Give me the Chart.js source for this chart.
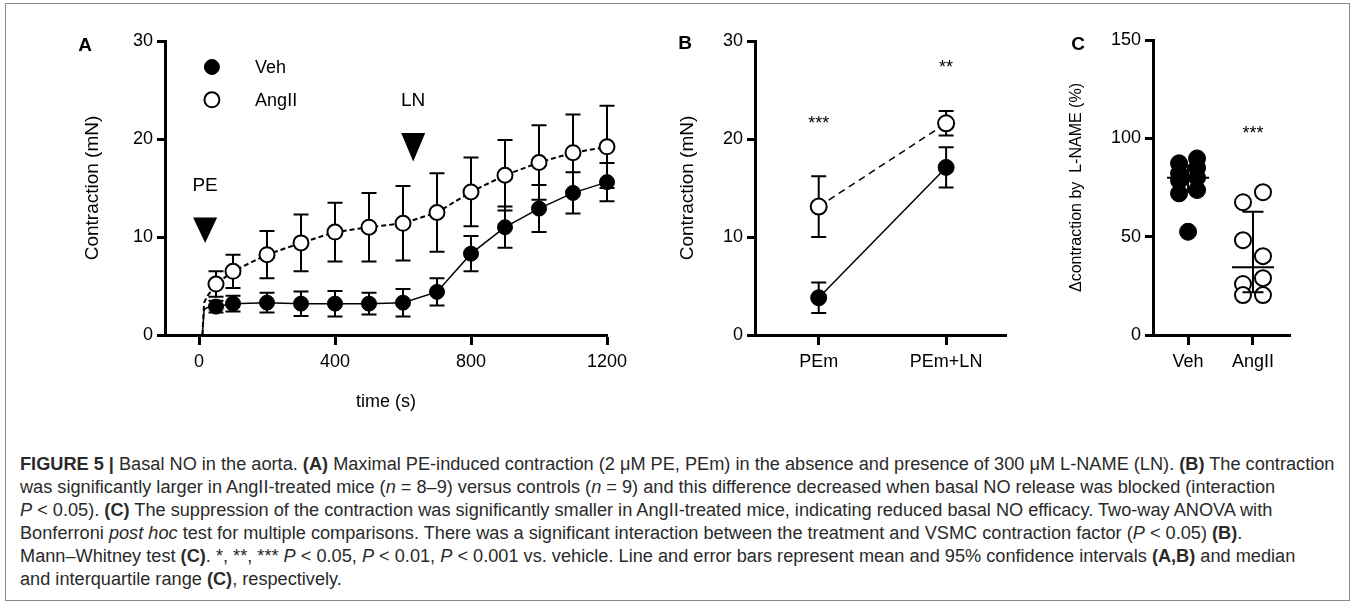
<!DOCTYPE html>
<html><head><meta charset="utf-8">
<script src="https://cdn.jsdelivr.net/npm/chart.js@4.4.1/dist/chart.umd.min.js"></script>
<style>
html,body{margin:0;padding:0;background:#fff;}
body{width:1355px;height:608px;position:relative;overflow:hidden;font-family:"Liberation Sans",Arial,Helvetica,sans-serif;}
.cv{position:absolute;top:0;}
.frame{position:absolute;left:5px;top:3px;width:1345px;height:598px;border:1px solid #8a8a8a;box-sizing:border-box;}
.letter{position:absolute;font-weight:bold;font-size:19px;color:#000;transform:translate(-50%,-50%);line-height:1;}
#caption{position:absolute;left:20px;top:453px;font-size:17px;line-height:23px;color:#2a2a2a;white-space:nowrap;}
#caption div{display:block;}
</style></head>
<body>
<div class="frame"></div>
<canvas id="cA" class="cv" style="left:0px" width="640" height="430"></canvas>
<canvas id="cB" class="cv" style="left:640px" width="400" height="430"></canvas>
<canvas id="cC" class="cv" style="left:1040px" width="315" height="430"></canvas>
<div class="letter" style="left:85px;top:44px">A</div>
<div class="letter" style="left:685px;top:42px">B</div>
<div class="letter" style="left:1078px;top:43px">C</div>
<div id="caption">
<div id="cap1"><b>FIGURE 5 |</b> Basal NO in the aorta. <b>(A)</b> Maximal PE-induced contraction (2 μM PE, PEm) in the absence and presence of 300 μM L-NAME (LN). <b>(B)</b> The contraction</div>
<div>was significantly larger in AngII-treated mice (<i>n</i> = 8–9) versus controls (<i>n</i> = 9) and this difference decreased when basal NO release was blocked (interaction</div>
<div><i>P</i> &lt; 0.05). <b>(C)</b> The suppression of the contraction was significantly smaller in AngII-treated mice, indicating reduced basal NO efficacy. Two-way ANOVA with</div>
<div>Bonferroni <i>post hoc</i> test for multiple comparisons. There was a significant interaction between the treatment and VSMC contraction factor (<i>P</i> &lt; 0.05) <b>(B)</b>.</div>
<div>Mann–Whitney test <b>(C)</b>. *, **, *** <i>P</i> &lt; 0.05, <i>P</i> &lt; 0.01, <i>P</i> &lt; 0.001 vs. vehicle. Line and error bars represent mean and 95% confidence intervals <b>(A,B)</b> and median</div>
<div>and interquartile range <b>(C)</b>, respectively.</div>
</div>
<script>
// ---------------- DATA ----------------
// Panel A: time course
const timesA   = [50, 100, 200, 300, 400, 500, 600, 700, 800, 900, 1000, 1100, 1200];
const vehA     = [2.9, 3.2, 3.3, 3.2, 3.2, 3.2, 3.3, 4.4, 8.3, 11.0, 12.9, 14.5, 15.6];
const vehErrA  = [0.6, 0.8, 1.0, 1.25, 1.3, 1.1, 1.4, 1.4, 1.8, 2.1, 2.4, 2.1, 1.95];
const angA     = [5.2, 6.5, 8.2, 9.4, 10.5, 11.0, 11.4, 12.5, 14.6, 16.3, 17.6, 18.6, 19.2];
const angErrA  = [1.3, 1.7, 2.4, 2.9, 3.0, 3.5, 3.8, 4.0, 3.5, 3.6, 3.8, 3.9, 4.2];
// recorded trace onset before the first averaged point
const onsetT   = [10, 15, 25, 38];
const vehOnset = [0, 2.6, 2.8, 2.9];
const angOnset = [0, 3.3, 4.0, 4.6];
const xTicksA  = [0, 400, 800, 1200];
const yTicksA  = [0, 10, 20, 30];
const drugT    = {PE: 18, LN: 630};
// Panel B
const catsB    = ['PEm', 'PEm+LN'];
const vehB     = [3.8, 17.1];
const vehErrB  = [1.55, 2.05];
const angB     = [13.1, 21.6];
const angErrB  = [3.1, 1.25];
const starsB   = ['***', '**'];
// Panel C
const catsC    = ['Veh', 'AngII'];
const vehC     = [89.8, 87.3, 85, 82.2, 80, 78.5, 73.7, 72, 52.5];
const angC     = [72.6, 67.5, 48.2, 40.1, 28.9, 25.9, 20.3, 20.3];
const starsC   = ['', '***'];
const yTicksC  = [0, 50, 100, 150];

// ---------------- SETUP ----------------
Chart.defaults.font.family = "'Liberation Sans', Arial, Helvetica, sans-serif";
Chart.defaults.font.size = 18;
Chart.defaults.color = '#000';
Chart.defaults.animation = false;

const BLACK = '#000';

function axisY(min, max, ticks, width, title, titleSize) {
  return {
    type: 'linear', min: min, max: max,
    afterBuildTicks: s => { s.ticks = ticks.map(v => ({value: v})); },
    afterFit: s => { s.width = width; },
    grid: {display: true, drawOnChartArea: false, drawTicks: true, tickLength: 8, tickWidth: 3, tickColor: BLACK},
    border: {display: true, width: 3, color: BLACK},
    ticks: {padding: 4, color: BLACK, font: {size: 18}},
    title: {display: true, text: title, color: BLACK, font: {size: titleSize}, padding: {top: 0, bottom: 0}}
  };
}
function axisX(min, max, ticks, labels, title) {
  return {
    type: 'linear', min: min, max: max,
    afterBuildTicks: s => { s.ticks = ticks.map(v => ({value: v})); },
    afterFit: s => { s.height = 78; },
    grid: {display: true, drawOnChartArea: false, drawTicks: true, tickLength: 10, tickWidth: 3, tickColor: BLACK},
    border: {display: true, width: 3, color: BLACK},
    ticks: {padding: 6, color: BLACK, font: {size: 18}, maxRotation: 0, autoSkip: false,
            callback: (v) => labels ? labels[v] : String(v)},
    title: {display: !!title, text: title || '', color: BLACK, font: {size: 18}, padding: {top: 0, bottom: 0}}
  };
}

const errorBars = {
  id: 'errorBars',
  beforeDatasetsDraw(chart) {
    const ctx = chart.ctx, xs = chart.scales.x, ys = chart.scales.y;
    chart.data.datasets.forEach(ds => {
      if (!ds.errors) return;
      ctx.save();
      ctx.strokeStyle = BLACK; ctx.lineWidth = 2; ctx.setLineDash([]);
      ds.data.forEach((p, i) => {
        const e = ds.errors[i];
        if (e == null) return;
        const x = xs.getPixelForValue(p.x);
        const y1 = ys.getPixelForValue(p.y + e), y2 = ys.getPixelForValue(p.y - e);
        ctx.beginPath();
        ctx.moveTo(x, y1); ctx.lineTo(x, y2);
        ctx.moveTo(x - 7.5, y1); ctx.lineTo(x + 7.5, y1);
        ctx.moveTo(x - 7.5, y2); ctx.lineTo(x + 7.5, y2);
        ctx.stroke();
      });
      ctx.restore();
    });
  }
};

function tri(ctx, x, yTop, yTip, hw) {
  ctx.beginPath(); ctx.moveTo(x - hw, yTop); ctx.lineTo(x + hw, yTop); ctx.lineTo(x, yTip); ctx.closePath(); ctx.fill();
}

const annotA = {
  id: 'annotA',
  afterDatasetsDraw(chart) {
    const ctx = chart.ctx, xs = chart.scales.x, ys = chart.scales.y;
    ctx.save();
    // legend
    const dsets = chart.data.datasets;
    const legY = [27.35, 24.0];
    [dsets[0], dsets[1]].forEach((ds, i) => {
      const cx = xs.getPixelForValue(38), cy = ys.getPixelForValue(legY[i]);
      ctx.beginPath(); ctx.arc(cx, cy, 7.5, 0, Math.PI * 2);
      ctx.fillStyle = ds.pointBackgroundColor; ctx.fill();
      ctx.lineWidth = ds.pointBorderWidth; ctx.strokeStyle = BLACK; ctx.stroke();
      ctx.fillStyle = BLACK; ctx.font = "18px 'Liberation Sans', Arial, sans-serif";
      ctx.textAlign = 'left'; ctx.textBaseline = 'middle';
      ctx.fillText(ds.label, xs.getPixelForValue(165), cy + 1);
    });
    // drug additions
    ctx.fillStyle = BLACK; ctx.textAlign = 'center'; ctx.textBaseline = 'middle';
    ctx.font = "19px 'Liberation Sans', Arial, sans-serif";
    const px = xs.getPixelForValue(drugT.PE);
    ctx.fillText('PE', px, ys.getPixelForValue(15.3) + 1);
    tri(ctx, px, ys.getPixelForValue(12.0), ys.getPixelForValue(9.4), 12);
    const lx = xs.getPixelForValue(drugT.LN);
    ctx.fillText('LN', lx, ys.getPixelForValue(24.0) + 1);
    tri(ctx, lx, ys.getPixelForValue(20.6), ys.getPixelForValue(17.7), 12);
    ctx.restore();
  }
};

// ---------------- PANEL A ----------------
const vehLineA = onsetT.map((t, i) => ({x: t, y: vehOnset[i]})).concat(timesA.map((t, i) => ({x: t, y: vehA[i]})));
const angLineA = onsetT.map((t, i) => ({x: t, y: angOnset[i]})).concat(timesA.map((t, i) => ({x: t, y: angA[i]})));
const radA = onsetT.map(() => 0).concat(timesA.map(() => 7.5));

new Chart(document.getElementById('cA'), {
  type: 'line',
  data: {datasets: [
    {label: 'Veh', data: vehLineA, errors: onsetT.map(() => null).concat(vehErrA), order: 1,
     borderColor: BLACK, borderWidth: 1.5, pointRadius: radA, pointBackgroundColor: BLACK,
     pointBorderColor: BLACK, pointBorderWidth: 1, tension: 0, clip: false},
    {label: 'AngII', data: angLineA, errors: onsetT.map(() => null).concat(angErrA), order: 2,
     borderColor: BLACK, borderWidth: 2, borderDash: [5, 3], pointRadius: radA, pointBackgroundColor: '#fff',
     pointBorderColor: BLACK, pointBorderWidth: 2, tension: 0, clip: false}
  ]},
  options: {
    responsive: false, animation: false,
    layout: {padding: {left: 81, top: 41, right: 33, bottom: 17}},
    plugins: {legend: {display: false}, tooltip: {enabled: false}},
    scales: {
      x: axisX(-100, 1200, xTicksA, null, 'time (s)'),
      y: axisY(0, 30, yTicksA, 84, 'Contraction (mN)', 19)
    }
  },
  plugins: [errorBars, annotA]
});

// ---------------- PANEL B ----------------
const annotB = {
  id: 'annotB',
  afterDatasetsDraw(chart) {
    const ctx = chart.ctx, xs = chart.scales.x, ys = chart.scales.y;
    ctx.save(); ctx.fillStyle = BLACK; ctx.textAlign = 'center'; ctx.textBaseline = 'alphabetic';
    ctx.font = "18px 'Liberation Sans', Arial, sans-serif";
    const starY = [22.0, 27.8];
    starsB.forEach((s, i) => ctx.fillText(s, xs.getPixelForValue(i), ys.getPixelForValue(starY[i]) + 10));
    ctx.restore();
  }
};
new Chart(document.getElementById('cB'), {
  type: 'line',
  data: {datasets: [
    {label: 'Veh', data: vehB.map((v, i) => ({x: i, y: v})), errors: vehErrB, order: 1,
     borderColor: BLACK, borderWidth: 1.5, pointRadius: 8, pointBackgroundColor: BLACK,
     pointBorderColor: BLACK, pointBorderWidth: 1, tension: 0, clip: false},
    {label: 'AngII', data: angB.map((v, i) => ({x: i, y: v})), errors: angErrB, order: 2,
     borderColor: BLACK, borderWidth: 1.5, borderDash: [7, 5], pointRadius: 8, pointBackgroundColor: '#fff',
     pointBorderColor: BLACK, pointBorderWidth: 2, tension: 0, clip: false}
  ]},
  options: {
    responsive: false, animation: false,
    layout: {padding: {left: 36, top: 41, right: 34, bottom: 17}},
    plugins: {legend: {display: false}, tooltip: {enabled: false}},
    scales: {
      x: axisX(-0.5, 1.47, [0, 1], catsB, null),
      y: axisY(0, 30, yTicksA, 79, 'Contraction (mN)', 19)
    }
  },
  plugins: [errorBars, annotB]
});

// ---------------- PANEL C ----------------
const areaC = {w: 137, h: 295, xmin: -0.54, xmax: 1.57, ymax: 150};
const pxX = areaC.w / (areaC.xmax - areaC.xmin), pxY = areaC.h / areaC.ymax;
// column-scatter layout: neighbouring points closer than one marker alternate left / right,
// successive groups start on alternate sides
function columnScatter(values, center, gapPx, offPx) {
  const order = values.map((v, i) => i).sort((a, b) => values[b] - values[a]);
  const out = new Array(values.length);
  const groups = [];
  order.forEach((i, k) => {
    if (k > 0 && (values[order[k - 1]] - values[i]) * pxY < gapPx) groups[groups.length - 1].push(i);
    else groups.push([i]);
  });
  let start = 1;
  groups.forEach(g => {
    if (g.length === 1) { out[g[0]] = center; return; }
    g.forEach((i, j) => { out[i] = center + (j % 2 === 0 ? start : -start) * offPx / pxX; });
    start = -start;
  });
  return out;
}
function quant(sorted, p) {
  const n = sorted.length, r = p * (n + 1), lo = Math.floor(r), f = r - lo;
  if (lo < 1) return sorted[0];
  if (lo >= n) return sorted[n - 1];
  return sorted[lo - 1] + f * (sorted[lo] - sorted[lo - 1]);
}
const summaryC = {
  id: 'summaryC',
  afterDatasetsDraw(chart) {
    const ctx = chart.ctx, xs = chart.scales.x, ys = chart.scales.y;
    ctx.save(); ctx.strokeStyle = BLACK; ctx.lineWidth = 2;
    chart.data.datasets.forEach((ds, ci) => {
      const s = ds.values.slice().sort((a, b) => a - b);
      const med = quant(s, 0.5), q1 = quant(s, 0.25), q3 = quant(s, 0.75);
      const x = xs.getPixelForValue(ci);
      const ym = ys.getPixelForValue(med), y1 = ys.getPixelForValue(q1), y3 = ys.getPixelForValue(q3);
      ctx.beginPath();
      ctx.moveTo(x - 21, ym); ctx.lineTo(x + 21, ym);
      ctx.moveTo(x, y1); ctx.lineTo(x, y3);
      ctx.moveTo(x - 10.5, y1); ctx.lineTo(x + 10.5, y1);
      ctx.moveTo(x - 10.5, y3); ctx.lineTo(x + 10.5, y3);
      ctx.stroke();
    });
    ctx.fillStyle = BLACK; ctx.textAlign = 'center'; ctx.textBaseline = 'alphabetic';
    ctx.font = "18px 'Liberation Sans', Arial, sans-serif";
    starsC.forEach((st, i) => { if (st) ctx.fillText(st, xs.getPixelForValue(i), ys.getPixelForValue(105) + 10); });
    ctx.restore();
  }
};
const vehXC = columnScatter(vehC, 0, 17, 9);
const angXC = columnScatter(angC, 1, 17, 10);
new Chart(document.getElementById('cC'), {
  type: 'scatter',
  data: {datasets: [
    {label: 'Veh', values: vehC, data: vehC.map((v, i) => ({x: vehXC[i], y: v})),
     pointRadius: 8.5, pointBackgroundColor: BLACK, pointBorderColor: BLACK, pointBorderWidth: 1, clip: false},
    {label: 'AngII', values: angC, data: angC.map((v, i) => ({x: angXC[i], y: v})),
     pointRadius: 8, pointBackgroundColor: '#fff', pointBorderColor: BLACK, pointBorderWidth: 2, clip: false}
  ]},
  options: {
    responsive: false, animation: false,
    layout: {padding: {left: 27, top: 40, right: 65, bottom: 17}},
    plugins: {legend: {display: false}, tooltip: {enabled: false}},
    scales: {
      x: axisX(areaC.xmin, areaC.xmax, [0, 1], catsC, null),
      y: axisY(0, 150, yTicksC, 86, 'Δcontraction by  L-NAME (%)', 16)
    }
  },
  plugins: [summaryC]
});

// fit caption width to reference line length
(function () {
  const cap = document.getElementById('caption');
  const l1 = document.getElementById('cap1');
  l1.style.display = 'inline-block';
  const w = l1.getBoundingClientRect().width;
  l1.style.display = 'block';
  cap.style.fontSize = (17 * 1315 / w).toFixed(2) + 'px';
})();
</script>
</body></html>
